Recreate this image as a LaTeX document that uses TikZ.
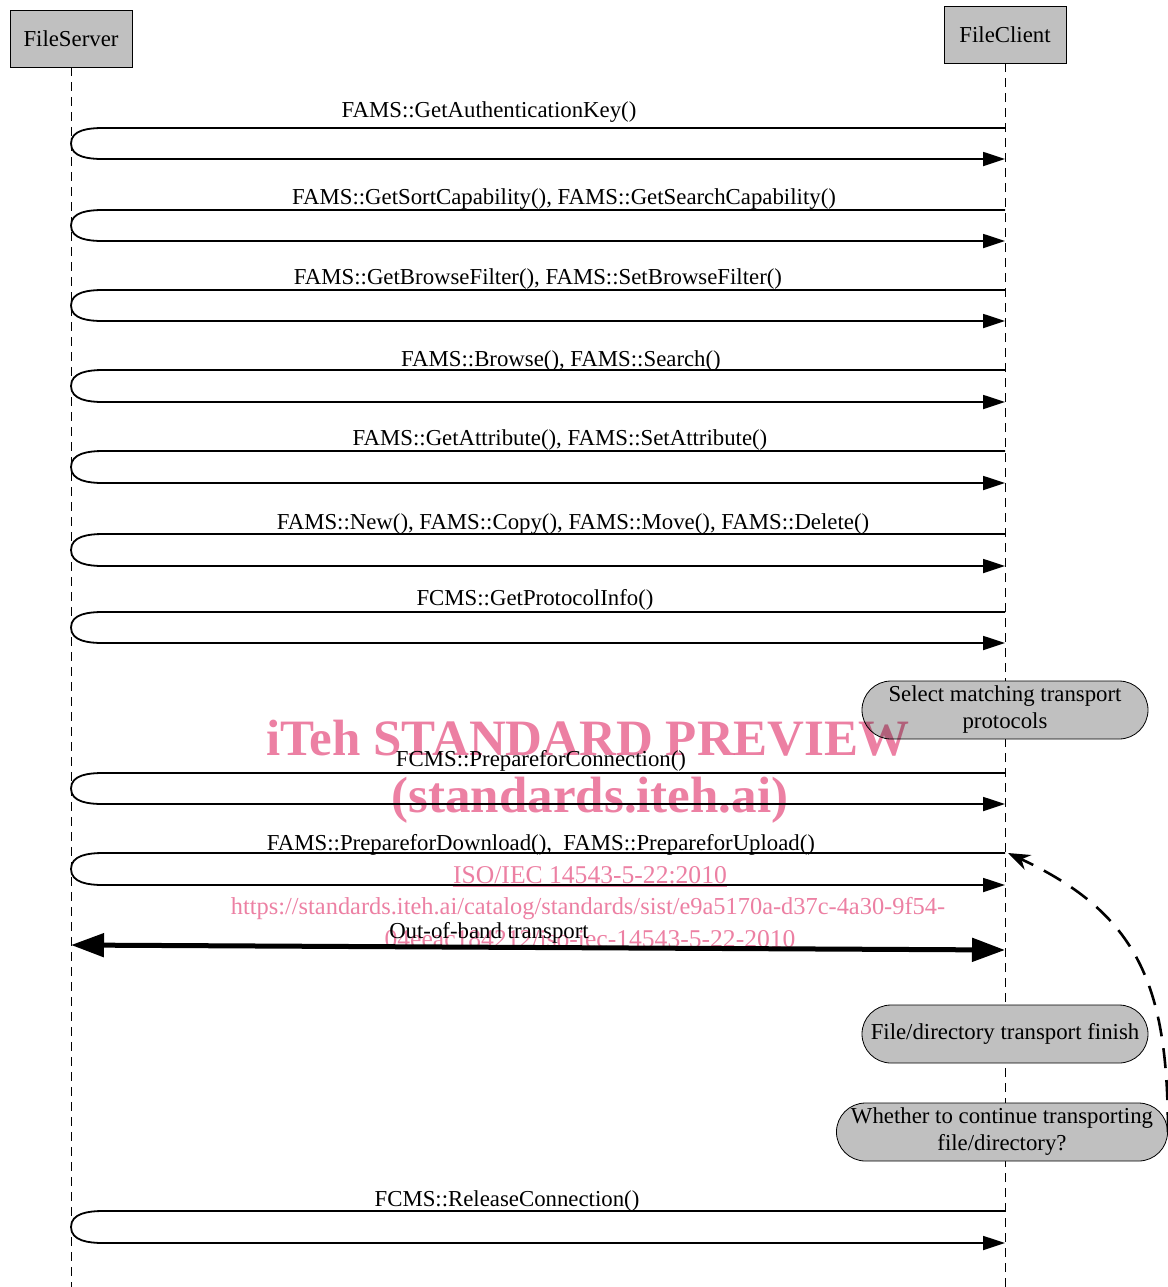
\documentclass[tikz,border=0pt]{standalone}
\usepackage{fontspec}
\setmainfont{Liberation Serif}
\usepackage{xcolor}
\usetikzlibrary{
    arrows.meta,
    shapes.misc,
    positioning
}
\definecolor{boxgray}{RGB}{192,192,192}
\definecolor{markpink}{RGB}{236,128,163}

\begin{document}
\begin{tikzpicture}[x=0.5pt, y=0.5pt,
    every node/.style={font=\fontsize{11.4}{13.5}\selectfont},
    actor/.style={draw, fill=boxgray, minimum width=61pt, minimum height=28.5pt, inner sep=0pt},
    note/.style={draw, fill=boxgray, rounded rectangle, minimum height=29pt, inner sep=1pt, align=center},
    life/.style={line width=0.5pt, dash pattern=on 4.5pt off 3pt},
    msg/.style={line width=0.9pt, -{Triangle[length=11pt,width=7pt]}},
    wmark/.style={text=markpink, inner sep=0pt}]
                                \useasboundingbox (0,0) rectangle (1168,-1287);
                                \node[actor] (srv) at (71,-38.5) {FileServer};
                                \node[actor] (cli) at (1005,-34.5) {FileClient};
                                \draw[life] (srv.south) -- (srv |- 0,-1287);
                                \draw[life] (cli.south) -- (cli |- 0,-1287);
                                % requests and replies
                                \node (m1) at (489,-112) {FAMS::GetAuthenticationKey()};
                                \draw[msg] (cli |- 0,-128) -- (103,-128) to[out=180,in=90] (srv |- 0,-143.5) to[out=-90,in=180] (103,-159) -- (cli |- 0,-159);
                                \node (m2) at (564,-199) {FAMS::GetSortCapability(), FAMS::GetSearchCapability()};
                                \draw[msg] (cli |- 0,-210) -- (103,-210) to[out=180,in=90] (srv |- 0,-225.5) to[out=-90,in=180] (103,-241) -- (cli |- 0,-241);
                                \node (m3) at (538,-279) {FAMS::GetBrowseFilter(), FAMS::SetBrowseFilter()};
                                \draw[msg] (cli |- 0,-290) -- (103,-290) to[out=180,in=90] (srv |- 0,-305.5) to[out=-90,in=180] (103,-321) -- (cli |- 0,-321);
                                \node (m4) at (561,-361) {FAMS::Browse(), FAMS::Search()};
                                \draw[msg] (cli |- 0,-370) -- (103,-370) to[out=180,in=90] (srv |- 0,-386) to[out=-90,in=180] (103,-402) -- (cli |- 0,-402);
                                \node (m5) at (560,-440) {FAMS::GetAttribute(), FAMS::SetAttribute()};
                                \draw[msg] (cli |- 0,-451) -- (103,-451) to[out=180,in=90] (srv |- 0,-467) to[out=-90,in=180] (103,-483) -- (cli |- 0,-483);
                                \node (m6) at (573,-524) {FAMS::New(), FAMS::Copy(), FAMS::Move(), FAMS::Delete()};
                                \draw[msg] (cli |- 0,-534) -- (103,-534) to[out=180,in=90] (srv |- 0,-550) to[out=-90,in=180] (103,-566) -- (cli |- 0,-566);
                                \node (m7) at (535,-600) {FCMS::GetProtocolInfo()};
                                \draw[msg] (cli |- 0,-612) -- (103,-612) to[out=180,in=90] (srv |- 0,-627.5) to[out=-90,in=180] (103,-643) -- (cli |- 0,-643);
                                \node[note, minimum width=145pt] (sel) at (1005,-710) {Select matching transport\\protocols};
                                \node (m8) at (541,-761) {FCMS::PrepareforConnection()};
                                \draw[msg] (cli |- 0,-773) -- (103,-773) to[out=180,in=90] (srv |- 0,-788.5) to[out=-90,in=180] (103,-804) -- (cli |- 0,-804);
                                \node (m9) at (541,-845) {FAMS::PrepareforDownload(),~ FAMS::PrepareforUpload()};
                                \draw[msg] (cli |- 0,-853) -- (103,-853) to[out=180,in=90] (srv |- 0,-869) to[out=-90,in=180] (103,-885) -- (cli |- 0,-885);
                                \node (m10) at (489,-933) {Out-of-band transport};
                                \draw[line width=2.5pt, {Triangle[length=16.5pt,width=11.5pt]}-{Triangle[length=16.5pt,width=11.5pt]}] (srv |- 0,-945) -- (cli |- 0,-950);
                                \node[note, minimum width=145pt] (fin) at (1005,-1034) {File/directory transport finish};
                                \node[note, minimum width=164pt] (wh) at (1002,-1132) {Whether to continue transporting\\file/directory?};
                                \coordinate (back) at (1008,-853);
                                \draw[line width=1.3pt, dash pattern=on 10pt off 6pt, -{Stealth[length=11pt,width=8pt]}] (wh.east) to[out=90,in=-25,looseness=1.15] (back);
                                \node (m11) at (507,-1201) {FCMS::ReleaseConnection()};
                                \draw[msg] (cli |- 0,-1211) -- (103,-1211) to[out=180,in=90] (srv |- 0,-1227) to[out=-90,in=180] (103,-1243) -- (cli |- 0,-1243);
                                % watermark
                                \begin{scope}[blend mode=multiply]
                                \node[wmark, font=\bfseries\fontsize{25.5}{30}\selectfont] (wm1) at (588,-738) {iTeh STANDARD PREVIEW};
                                \node[wmark, font=\bfseries\fontsize{25.5}{30}\selectfont] (wm2) at (590,-800) {(standards.iteh.ai)};
                                \node[wmark, font=\fontsize{12.8}{15}\selectfont] (wm3) at (590,-875) {ISO/IEC 14543-5-22:2010};
                                \draw[markpink, line width=0.6pt] ([yshift=-1pt]wm3.south west) -- ([yshift=-1pt]wm3.south east);
                                \node[wmark, font=\fontsize{12.2}{15}\selectfont] (wm4) at (588,-909) {https://standards.iteh.ai/catalog/standards/sist/e9a5170a-d37c-4a30-9f54-};
                                \node[wmark, font=\fontsize{12.8}{15}\selectfont] (wm5) at (590,-939) {04eeac184212/iso-iec-14543-5-22-2010};
                                \end{scope}
                            \end{tikzpicture}
\end{document}
